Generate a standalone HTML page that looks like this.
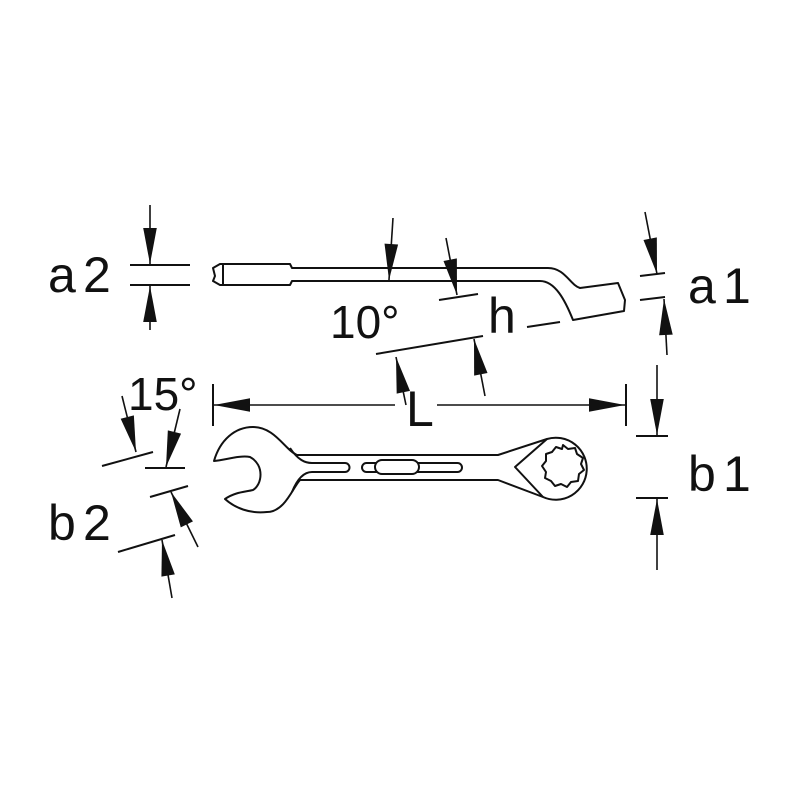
<!DOCTYPE html>
<html><head><style>html,body{margin:0;padding:0;background:#fff}svg{display:block}text{font-family:"Liberation Sans",sans-serif;fill:#111}</style></head>
<body>
<svg width="800" height="800" viewBox="0 0 800 800" xmlns="http://www.w3.org/2000/svg">
<defs>
<marker id="ar" viewBox="0 0 10 10" refX="10" refY="5" markerWidth="14" markerHeight="8" markerUnits="userSpaceOnUse" orient="auto" overflow="visible">
<path d="M-45,-3.5 L0,5 L-45,13.5 Z" transform="translate(10,0)" fill="#111"/>
</marker>
</defs>
<g stroke="#111" stroke-width="2" fill="none" stroke-linejoin="round">
<path d="M220,264 L213,268 L215,276 L213,281 L220,285 L290,285 L292,281 L540,281 C555,281 565,300 573,320 L624,311 L625,300 L618,283 L580,288 C570,285 565,268 548,268 L292,268 L290,264 Z"/>
<line x1="223" y1="264" x2="223" y2="285"/>
<line x1="130" y1="265" x2="190" y2="265"/>
<line x1="130" y1="285" x2="190" y2="285"/>
<line x1="439" y1="300" x2="478" y2="294"/>
<line x1="376" y1="354" x2="483" y2="336"/>
<line x1="527" y1="327" x2="560" y2="322"/>
<line x1="640" y1="276" x2="665" y2="273"/>
<line x1="640" y1="300" x2="665" y2="297"/>
<line x1="213" y1="384" x2="213" y2="426"/>
<line x1="626" y1="384" x2="626" y2="426"/>
<line x1="636" y1="436" x2="668" y2="436"/>
<line x1="636" y1="498" x2="668" y2="498"/>
<line x1="102" y1="466" x2="153" y2="452"/>
<line x1="145" y1="468" x2="185" y2="468"/>
<line x1="150" y1="497" x2="188" y2="486"/>
<line x1="118" y1="552" x2="175" y2="535"/>
<path d="M214,461 C220,440 235,427 253,427 C275,427 285,450 297,455 L498,455 L547,439 A31,31 0 1 1 543,497 L498,480 L300,480 C293,487 285,512 267,512 C250,514 235,508 225,499 C235,492 245,492 253,490 C262,485 265,465 250,457 C240,455 225,460 214,461 Z"/>
<path d="M290,448 C298,460 305,463 312,463 L345,463 A4.5,4.5 0 0 1 345,472 L312,472 C302,472 296,482 292,492"/>
<rect x="362" y="463" width="100" height="9" rx="4.5"/>
<rect x="375" y="460" width="44" height="14" rx="7" fill="#fff"/>
<path d="M547,439 L515,467 L543,497"/>
<path d="M563,445 L568,449 L575,448 L577,454 L583,458 L581,464 L584,470 L579,474 L578,481 L571,482 L567,487 L561,484 L555,486 L551,481 L545,478 L546,472 L542,466 L546,461 L546,454 L552,452 L556,447 L562,449 Z"/>
</g>
<g stroke="#111" stroke-width="1.6" fill="none" marker-end="url(#ar)">
<line x1="150" y1="205" x2="150" y2="264"/>
<line x1="150" y1="330" x2="150" y2="286"/>
<line x1="393" y1="218" x2="389" y2="280"/>
<line x1="446" y1="238" x2="457" y2="295"/>
<line x1="406" y1="405" x2="396" y2="357"/>
<line x1="485" y1="396" x2="474" y2="339"/>
<line x1="645" y1="212" x2="657" y2="274"/>
<line x1="667" y1="355" x2="664" y2="299"/>
<line x1="395" y1="405" x2="214" y2="405"/>
<line x1="437" y1="405" x2="625" y2="405"/>
<line x1="657" y1="365" x2="657" y2="435"/>
<line x1="657" y1="570" x2="657" y2="499"/>
<line x1="122" y1="396" x2="136" y2="452"/>
<line x1="180" y1="409" x2="166" y2="467"/>
<line x1="198" y1="547" x2="171" y2="492"/>
<line x1="172" y1="598" x2="162" y2="540"/>
</g>
<g font-size="50">
<text x="48" y="292">a</text><text x="83" y="292">2</text>
<text x="688" y="303">a</text><text x="723" y="303">1</text>
<text x="688" y="491">b</text><text x="723" y="491">1</text>
<text x="48" y="540">b</text><text x="83" y="540">2</text>
<text x="330" y="338" font-size="46">10°</text>
<text x="488" y="333">h</text>
<text x="406" y="426">L</text>
<text x="128" y="410" font-size="46">15°</text>
</g>
</svg>
</body></html>
